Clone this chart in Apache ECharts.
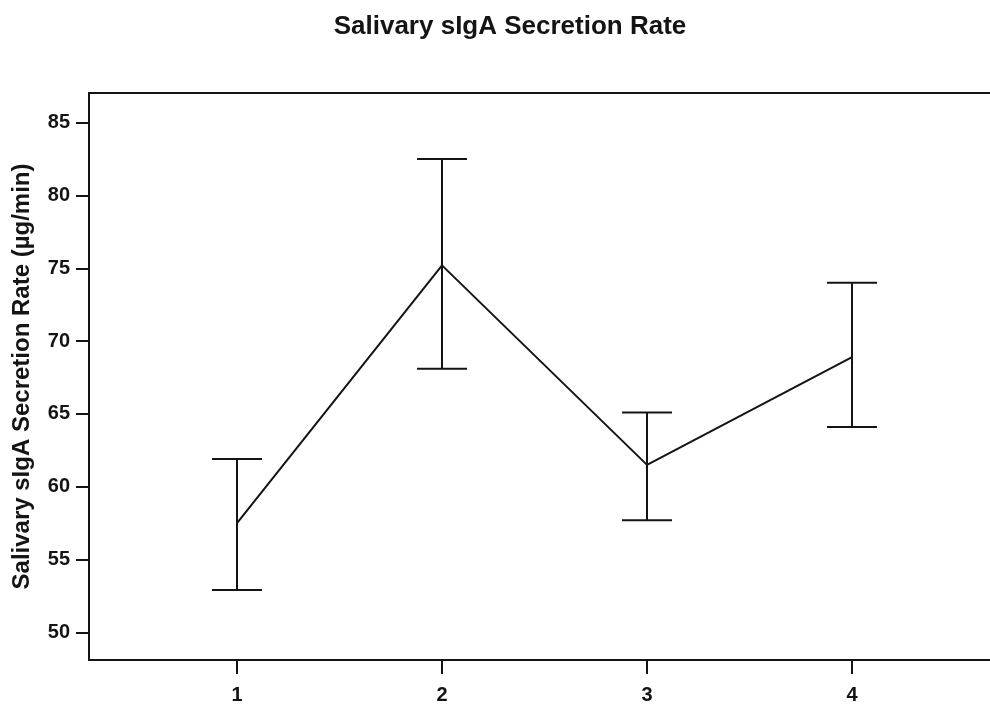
<!DOCTYPE html>
<html>
<head>
<meta charset="utf-8">
<script src="https://cdn.jsdelivr.net/npm/echarts@6/dist/echarts.min.js"></script>
<style>html,body{margin:0;padding:0;background:#fff;}#c{width:990px;height:705px;}</style>
</head>
<body>
<div id="c"></div>
<script>
var categories = [1, 2, 3, 4];
var means = [57.5, 75.2, 61.5, 68.9];
var upper = [61.9, 82.5, 65.1, 74.0];
var lower = [52.9, 68.1, 57.7, 64.1];
var yTicks = [50, 55, 60, 65, 70, 75, 80, 85];

var FONT = '"Liberation Sans", Arial, sans-serif';
var INK = '#141414';

var lineData = categories.map(function (c, i) { return [c, means[i]]; });
var errData = categories.map(function (c, i) { return [c, lower[i], upper[i]]; });

var chart = echarts.init(document.getElementById('c'));
chart.setOption({
  backgroundColor: '#ffffff',
  animation: false,
  title: {
    text: 'Salivary sIgA Secretion Rate',
    left: 505, top: 9, textAlign: 'center',
    textStyle: { fontFamily: FONT, fontWeight: 'bold', fontSize: 26, color: INK }
  },
  grid: { left: 89, right: 0, top: 93, bottom: 45, containLabel: false },
  xAxis: [{
    type: 'value', min: 0.278, max: 4.673,
    axisLine: { show: true, lineStyle: { color: INK, width: 2 } },
    axisTick: { show: true, length: 14, lineStyle: { color: INK, width: 2 }, customValues: categories },
    axisLabel: { show: true, margin: 25, fontFamily: FONT, fontWeight: 'bold', fontSize: 20, color: INK, customValues: categories },
    splitLine: { show: false }
  }, {
    type: 'value', position: 'top', min: 0.278, max: 4.673,
    axisLine: { show: true, lineStyle: { color: INK, width: 2 } },
    axisTick: { show: false }, axisLabel: { show: false }, splitLine: { show: false }
  }],
  yAxis: {
    type: 'value', min: 48.1, max: 87.04,
    name: 'Salivary sIgA Secretion Rate (µg/min)',
    nameLocation: 'middle', nameGap: 55,
    nameTextStyle: { fontFamily: FONT, fontWeight: 'bold', fontSize: 24, color: INK },
    axisLine: { show: true, lineStyle: { color: INK, width: 2 } },
    axisTick: { show: true, length: 13, lineStyle: { color: INK, width: 2 }, customValues: yTicks },
    axisLabel: { margin: 19, fontFamily: FONT, fontWeight: 'bold', fontSize: 20, color: INK, customValues: yTicks },
    splitLine: { show: false }
  },
  series: [{
    type: 'line', data: lineData, symbol: 'none',
    lineStyle: { color: INK, width: 2 }, z: 3
  }, {
    type: 'custom', data: errData, z: 4,
    renderItem: function (params, api) {
      var x = api.value(0);
      var lo = api.coord([x, api.value(1)]);
      var hi = api.coord([x, api.value(2)]);
      var hw = 25;
      var st = { stroke: INK, lineWidth: 2 };
      return {
        type: 'group',
        children: [
          { type: 'line', shape: { x1: lo[0], y1: lo[1], x2: hi[0], y2: hi[1] }, style: st },
          { type: 'line', shape: { x1: hi[0] - hw, y1: hi[1], x2: hi[0] + hw, y2: hi[1] }, style: st },
          { type: 'line', shape: { x1: lo[0] - hw, y1: lo[1], x2: lo[0] + hw, y2: lo[1] }, style: st }
        ]
      };
    }
  }]
});
</script>
</body>
</html>
